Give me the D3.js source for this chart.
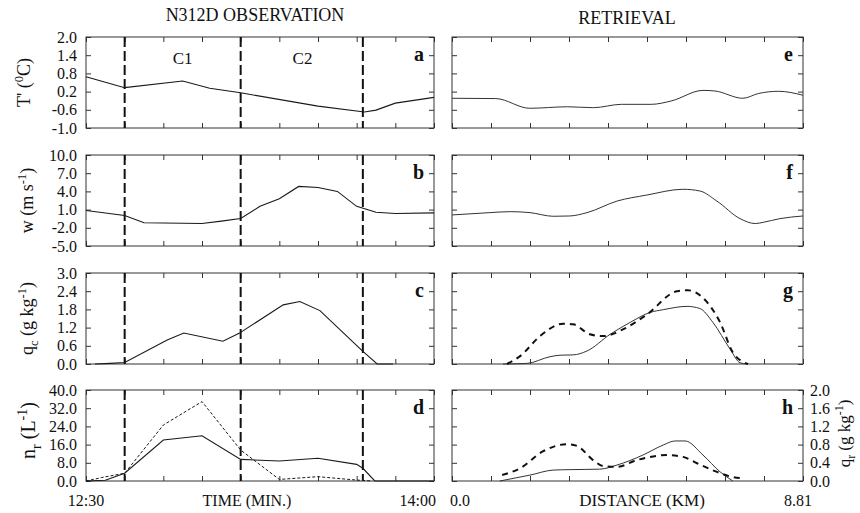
<!DOCTYPE html>
<html>
<head>
<meta charset="utf-8">
<script src="https://cdn.jsdelivr.net/npm/d3@7"></script>
<style>
  body { margin: 0; background: #fff; }
  text { font-family: "Liberation Serif", "Times New Roman", serif; fill: #111; }
</style>
</head>
<body>
<svg id="chart" width="860" height="513"></svg>
<script>
// ---- Aircraft observation (minutes after 12:30) ----
const tTime  = [0, 10, 25, 32, 40, 60, 72, 75, 80, 90];
const tObs   = [0.69, 0.33, 0.55, 0.31, 0.16, -0.28, -0.47, -0.41, -0.18, 0.01];

const wTime  = [0, 10, 15, 30, 35, 40, 45, 50, 55, 60, 65, 70, 75, 80, 90];
const wObs   = [0.84, 0.02, -1.18, -1.29, -0.9, -0.47, 1.54, 2.8, 4.82, 4.65, 4.0, 1.54, 0.56, 0.35, 0.46];

const qcTime = [2.3, 6.2, 10, 21, 25.3, 35.4, 39.6, 51, 55.3, 60.5, 71.4, 75.3, 79.4];
const qcObs  = [0, 0.02, 0.05, 0.79, 1.02, 0.75, 1.01, 1.95, 2.06, 1.76, 0.44, 0, 0];

const nrTime   = [0, 5, 10, 20, 30, 40, 50, 60, 70, 71.6, 74.7, 90];
const nrObs    = [0, 0.3, 3.4, 18.0, 19.9, 9.5, 8.8, 10.0, 7.3, 5.6, 0, 0];
const nrTime2  = [0, 4, 10, 20, 30, 40, 50, 60, 70, 74];
const nrObs2   = [0, 1.5, 3.4, 24.6, 34.9, 13.6, 0.7, 1.9, 0.4, 0];

// cell boundaries C1 / C2 (minutes after 12:30)
const cellBounds = [10, 40, 71.6];

// ---- Retrieval (km along track) ----
const eDist = [0, 1.1, 1.95, 2.9, 3.55, 4.25, 5.0, 5.5, 6.3, 6.6, 7.3, 7.7, 8.2, 8.81];
const eRet  = [-0.02, -0.03, -0.35, -0.30, -0.33, -0.22, -0.22, -0.11, 0.24, 0.22, -0.02, 0.14, 0.21, 0.08];

const fDist = [0, 0.95, 1.46, 1.96, 2.54, 2.96, 3.39, 4.14, 4.89, 5.8, 6.22, 6.65, 7.23, 7.61, 7.81, 8.23, 8.81];
const fRet  = [0.12, 0.5, 0.66, 0.5, -0.1, -0.05, 0.5, 2.4, 3.4, 4.35, 4.07, 2.4, -0.49, -1.3, -1.1, -0.49, -0.05];

const gDist  = [1.28, 1.88, 2.46, 2.71, 3.04, 3.39, 3.97, 4.47, 4.97, 5.3, 5.9, 6.22, 6.55, 6.98, 7.23, 7.4];
const gRet   = [0, 0.02, 0.24, 0.29, 0.3, 0.43, 0.98, 1.37, 1.70, 1.79, 1.9, 1.83, 1.37, 0.49, 0.04, 0];
const gDist2 = [1.38, 1.71, 2.21, 2.79, 3.04, 3.46, 3.79, 4.29, 4.89, 5.65, 5.92, 6.3, 6.73, 7.05, 7.43];
const gRet2  = [0, 0.26, 0.92, 1.33, 1.31, 0.98, 0.92, 1.14, 1.63, 2.4, 2.43, 2.18, 1.37, 0.38, 0];

const hDist  = [1.2, 1.96, 2.54, 2.96, 3.71, 4.14, 4.79, 5.3, 5.6, 5.85, 6.3, 6.73, 7.05];
const hRet   = [0, 0.13, 0.24, 0.25, 0.26, 0.35, 0.57, 0.79, 0.88, 0.88, 0.57, 0.2, 0];
const hDist2 = [1.26, 1.71, 2.28, 2.89, 3.14, 3.54, 3.79, 4.14, 4.64, 5.4, 5.8, 6.15, 6.65, 6.98, 7.3];
const hRet2  = [0.13, 0.28, 0.65, 0.81, 0.77, 0.46, 0.33, 0.31, 0.46, 0.57, 0.53, 0.39, 0.2, 0.1, 0.06];

// ---- Axis tick labels (top to bottom) ----
const tLabels  = ["2.0", "1.4", "0.8", "0.2", "-0.6", "-1.0"];
const wLabels  = ["10.0", "7.0", "4.0", "1.0", "-2.0", "-5.0"];
const qcLabels = ["3.0", "2.4", "1.8", "1.2", "0.6", "0.0"];
const nrLabels = ["40.0", "32.0", "24.0", "16.0", "8.0", "0.0"];
const qrLabels = ["2.0", "1.6", "1.2", "0.8", "0.4", "0.0"];

const timeStartLabel = "12:30", timeEndLabel = "14:00";
const distStartLabel = "0.0",   distEndLabel = "8.81";
const distMax = 8.81;

// ---- Layout ----
const svg = d3.select("#chart");
const rowTop = [37, 155, 273, 390];
const rowH = 91;
const xTime = d3.scaleLinear().domain([0, 90]).range([86, 434]);
const xDist = d3.scaleLinear().domain([0, distMax]).range([452, 803]);

const timeTicks = d3.range(0, 91, 10);
const distTicks = d3.range(10).map(i => distMax * i / 9);

const solidObs  = { stroke: "#1a1a1a", width: 1.1, dash: null };
const thinDash  = { stroke: "#1a1a1a", width: 1.0, dash: "3,2" };
const solidRet  = { stroke: "#333", width: 1.0, dash: null };
const thickDash = { stroke: "#111", width: 2.0, dash: "6,5" };

const panels = [
  { id: "a", col: 0, row: 0, dom: [-1, 2],  labels: tLabels,  series: [[tTime, tObs, solidObs]] },
  { id: "b", col: 0, row: 1, dom: [-5, 10], labels: wLabels,  series: [[wTime, wObs, solidObs]] },
  { id: "c", col: 0, row: 2, dom: [0, 3],   labels: qcLabels, series: [[qcTime, qcObs, solidObs]] },
  { id: "d", col: 0, row: 3, dom: [0, 40],  labels: nrLabels, series: [[nrTime2, nrObs2, thinDash], [nrTime, nrObs, solidObs]] },
  { id: "e", col: 1, row: 0, dom: [-1, 2],  labels: null, series: [[eDist, eRet, solidRet]] },
  { id: "f", col: 1, row: 1, dom: [-5, 10], labels: null, series: [[fDist, fRet, solidRet]] },
  { id: "g", col: 1, row: 2, dom: [0, 3],   labels: null, series: [[gDist, gRet, solidRet], [gDist2, gRet2, thickDash]] },
  { id: "h", col: 1, row: 3, dom: [0, 2],   labels: qrLabels, right: true,
    series: [[hDist, hRet, solidRet], [hDist2, hRet2, thickDash]] }
];

panels.forEach(p => {
  const x = p.col === 0 ? xTime : xDist;
  const xt = p.col === 0 ? timeTicks : distTicks;
  const top = rowTop[p.row], bot = top + rowH;
  const y = d3.scaleLinear().domain(p.dom).range([bot, top]);
  const [x0, x1] = x.range();
  const g = svg.append("g");

  // evenly spaced y ticks, top to bottom
  const yTicks = d3.range(6).map(i => p.dom[1] - (p.dom[1] - p.dom[0]) * i / 5);
  const fmt = (d, i) => p.labels ? p.labels[i] : "";

  // inward ticks on all four sides
  const axTop = d3.axisTop(x).tickValues(xt).tickSizeInner(-5).tickSizeOuter(0).tickFormat("");
  const axBot = d3.axisBottom(x).tickValues(xt).tickSizeInner(-5).tickSizeOuter(0).tickFormat("");
  const axL = d3.axisLeft(y).tickValues(yTicks).tickSizeInner(-5).tickSizeOuter(0).tickPadding(9)
                .tickFormat(p.col === 0 ? fmt : () => "");
  const axR = d3.axisRight(y).tickValues(yTicks).tickSizeInner(-5).tickSizeOuter(0).tickPadding(7)
                .tickFormat(p.right ? fmt : () => "");

  [[axTop, `translate(0,${top})`], [axBot, `translate(0,${bot})`],
   [axL, `translate(${x0},0)`], [axR, `translate(${x1},0)`]].forEach(([ax, tr]) => {
    const a = g.append("g").attr("transform", tr).call(ax);
    a.select(".domain").remove();
    a.selectAll("line").attr("stroke", "#333").attr("stroke-width", 1);
    a.selectAll("text").attr("font-size", 16).attr("fill", "#111")
      .style("font-family", '"Liberation Serif", "Times New Roman", serif');
  });

  // frame
  g.append("rect").attr("x", x0).attr("y", top).attr("width", x1 - x0).attr("height", rowH)
    .attr("fill", "none").attr("stroke", "#333").attr("stroke-width", 1);

  // cell boundaries on observation panels
  if (p.col === 0) {
    g.selectAll(".cb").data(cellBounds).enter().append("line")
      .attr("x1", d => x(d)).attr("x2", d => x(d))
      .attr("y1", top).attr("y2", bot)
      .attr("stroke", "#111").attr("stroke-width", 2).attr("stroke-dasharray", "10,4");
  }

  // data lines
  const curve = p.col === 0 ? d3.curveLinear : d3.curveMonotoneX;
  p.series.forEach(([xs, ys, st]) => {
    const pts = xs.map((v, i) => [v, ys[i]]);
    const line = d3.line().x(d => x(d[0])).y(d => y(d[1])).curve(curve);
    g.append("path").attr("d", line(pts)).attr("fill", "none")
      .attr("stroke", st.stroke).attr("stroke-width", st.width)
      .attr("stroke-dasharray", st.dash);
  });

  // panel letter
  g.append("text").attr("x", x1 - 10).attr("y", top + 24).attr("text-anchor", "end")
    .attr("font-size", 20).attr("font-weight", "bold").text(p.id);
});

// cell names
const cellNames = [["C1", 25], ["C2", 56]];
svg.selectAll(".cn").data(cellNames).enter().append("text")
  .attr("x", d => xTime(d[1])).attr("y", 64).attr("text-anchor", "middle")
  .attr("font-size", 17).text(d => d[0]);

// column titles
svg.append("text").attr("x", 255).attr("y", 21).attr("text-anchor", "middle")
  .attr("font-size", 18).text("N312D OBSERVATION");
svg.append("text").attr("x", 627).attr("y", 24).attr("text-anchor", "middle")
  .attr("font-size", 18).text("RETRIEVAL");

// bottom labels
const bY = 506;
svg.append("text").attr("x", xTime(0)).attr("y", bY).attr("text-anchor", "middle").attr("font-size", 16).text(timeStartLabel);
svg.append("text").attr("x", 247).attr("y", bY).attr("text-anchor", "middle").attr("font-size", 16).text("TIME (MIN.)");
svg.append("text").attr("x", xTime(90) + 2).attr("y", bY).attr("text-anchor", "end").attr("font-size", 16).text(timeEndLabel);
svg.append("text").attr("x", xDist(0) - 2).attr("y", bY).attr("text-anchor", "start").attr("font-size", 16).text(distStartLabel);
svg.append("text").attr("x", 642).attr("y", bY).attr("text-anchor", "middle").attr("font-size", 17).text("DISTANCE (KM)");
svg.append("text").attr("x", xDist(distMax) + 9).attr("y", bY).attr("text-anchor", "end").attr("font-size", 16).text(distEndLabel);

// rotated axis titles built from plain / super / sub pieces
function axisTitle(cx, cy, parts, size) {
  const t = svg.append("text")
    .attr("transform", `translate(${cx},${cy}) rotate(-90)`)
    .attr("text-anchor", "middle").attr("font-size", size);
  let shift = 0;
  parts.forEach(([s, kind]) => {
    const target = kind === "sup" ? -0.4 * size : kind === "sub" ? 0.3 * size : 0;
    t.append("tspan").attr("dy", target - shift)
      .attr("font-size", kind ? size * 0.7 : size).text(s);
    shift = target;
  });
  if (shift !== 0) t.append("tspan").attr("dy", -shift).text("");
}
axisTitle(30, rowTop[0] + rowH / 2, [["T' (", null], ["0", "sup"], ["C)", null]], 18);
axisTitle(33, rowTop[1] + rowH / 2, [["w (m s", null], ["-1", "sup"], [")", null]], 18);
axisTitle(33, rowTop[2] + rowH / 2, [["q", null], ["c", "sub"], [" (g kg", null], ["-1", "sup"], [")", null]], 18);
axisTitle(35, rowTop[3] + rowH / 2 - 5, [["n", null], ["r", "sub"], [" (L", null], ["-1", "sup"], [")", null]], 20);
axisTitle(850, rowTop[3] + rowH / 2 - 2, [["q", null], ["r", "sub"], [" (g kg", null], ["-1", "sup"], [")", null]], 17);
</script>
</body>
</html>
